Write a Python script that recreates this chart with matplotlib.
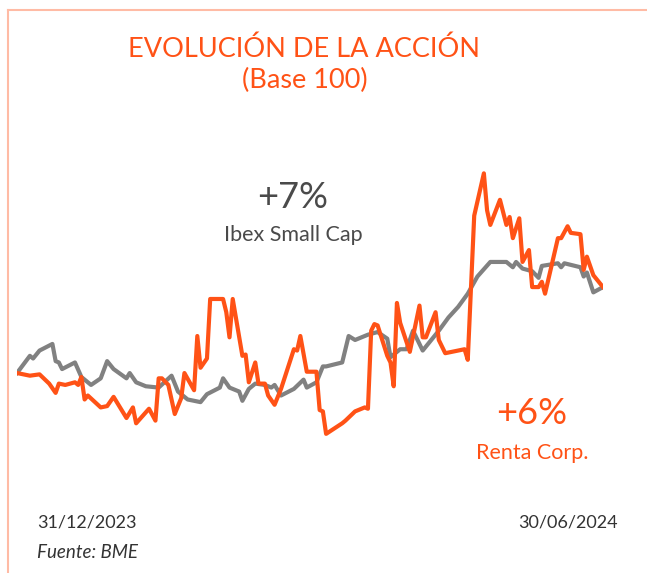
import matplotlib

matplotlib.use("Agg")
import matplotlib.pyplot as plt
import pandas as pd
from matplotlib.lines import Line2D

ORANGE = "#ff5216"
GREY = "#818181"
TEXT = "#4a4a4a"
BORDER = "#ffbba5"

W, H = 647, 573

# days since 31/12/2023, base 100
renta_days = [0, 4, 7, 10, 12, 13, 15, 18, 19, 20, 21, 22, 26, 28, 30, 34, 36, 37, 41, 43,
              44, 45, 47, 49, 51, 52, 55, 56, 57, 59, 60, 64, 65, 66, 67, 70, 71, 72, 74, 75,
              77, 78, 80, 82, 86, 87, 88, 90, 93, 94, 95, 96, 101, 102, 105, 108, 109, 110, 111, 112,
              115, 116, 117, 118, 119, 122, 125, 126, 127, 130, 131, 133, 139, 140, 142, 145, 146, 147, 150, 152,
              153, 154, 156, 157, 159, 160, 162, 163, 164, 168, 169, 171, 172, 175, 176, 177, 179, 182]
renta_vals = [100.0, 99.8, 99.9, 99.2, 98.5, 99.2, 99.1, 99.3, 99.1, 99.7, 98.0, 98.3, 97.4, 97.5, 98.2, 96.6, 97.4, 96.2, 97.3, 96.4,
              99.6, 99.6, 99.1, 96.9, 98.1, 100.0, 98.7, 102.8, 100.4, 101.1, 105.6, 105.6, 104.6, 102.7, 105.6, 101.3, 101.4, 99.3, 100.8, 99.2,
              99.2, 98.3, 97.6, 98.8, 101.8, 101.7, 102.8, 100.1, 100.1, 97.2, 97.1, 95.4, 96.2, 96.4, 97.1, 97.4, 97.3, 103.2, 103.7, 103.6,
              101.3, 100.8, 99.0, 105.3, 103.8, 101.6, 105.1, 102.7, 102.7, 104.6, 102.5, 101.5, 101.8, 101.0, 111.9, 115.1, 112.3, 111.2, 113.1, 111.2,
              111.8, 110.2, 111.7, 108.4, 109.3, 106.5, 106.5, 106.9, 106.0, 110.2, 110.2, 111.1, 110.6, 110.5, 107.8, 108.8, 107.4, 106.5]

ibex_days = [0, 4, 5, 7, 11, 12, 13, 14, 18, 20, 23, 26, 28, 30, 34, 35, 37, 40, 44, 48,
             50, 53, 57, 59, 63, 64, 66, 69, 70, 72, 74, 77, 79, 80, 82, 86, 89, 90, 93, 95,
             96, 101, 103, 105, 109, 112, 115, 116, 119, 121, 123, 126, 131, 134, 137, 140, 143, 147, 152, 154,
             155, 157, 160, 162, 163, 168, 169, 170, 175, 176, 177, 179, 182]
ibex_vals = [100.0, 101.3, 101.1, 101.7, 102.2, 100.9, 100.8, 100.3, 100.8, 99.7, 99.1, 99.6, 100.9, 100.3, 99.6, 100.0, 99.3, 99.0, 98.9, 99.8,
             98.6, 98.0, 97.8, 98.4, 98.9, 99.6, 98.9, 98.6, 97.9, 98.8, 99.2, 99.1, 98.9, 99.1, 98.3, 98.8, 99.5, 98.9, 99.3, 100.5,
             100.5, 100.8, 102.8, 102.5, 102.9, 103.1, 102.6, 101.2, 101.8, 101.8, 103.2, 101.7, 103.2, 104.2, 105.0, 106.0, 107.3, 108.4, 108.4, 108.0,
             108.4, 107.9, 107.7, 107.2, 108.1, 108.3, 108.0, 108.3, 108.0, 107.3, 107.6, 106.1, 106.5]

start = pd.Timestamp("2023-12-31")
renta_dates = start + pd.to_timedelta(renta_days, unit="D")
ibex_dates = start + pd.to_timedelta(ibex_days, unit="D")

plt.rcParams["font.family"] = ["Lato", "DejaVu Sans"]

fig = plt.figure(figsize=(W / 100, H / 100), dpi=100, facecolor="white")

# chart area in pixels: x 17..603, y 160..450
ax = fig.add_axes([17 / W, (H - 450) / H, (603 - 17) / W, 290 / H])
ax.plot(ibex_dates, ibex_vals, color=GREY, lw=3, solid_joinstyle="round", zorder=2)
ax.plot(renta_dates, renta_vals, color=ORANGE, lw=3, solid_joinstyle="round", zorder=3)
ax.set_xlim(start, start + pd.Timedelta(days=182))
ax.set_ylim(94.18, 116.11)
ax.axis("off")


def px(x, y):
    return x / W, 1 - y / H


fig.text(*px(304, 49), "EVOLUCIÓN DE LA ACCIÓN", ha="center", va="center",
         fontsize=19.5, color=ORANGE)
fig.text(*px(305, 80), "(Base 100)", ha="center", va="center",
         fontsize=19.5, color=ORANGE)

fig.text(*px(293, 197), "+7%", ha="center", va="center", fontsize=26, color=TEXT)
fig.text(*px(293, 235), "Ibex Small Cap", ha="center", va="center", fontsize=15.5, color=TEXT)
fig.text(*px(532, 414), "+6%", ha="center", va="center", fontsize=26, color=ORANGE)
fig.text(*px(532, 453), "Renta Corp.", ha="center", va="center", fontsize=15.5, color=ORANGE)

fig.text(*px(37, 522), "31/12/2023", ha="left", va="center", fontsize=13, color="#333333")
fig.text(*px(618, 522), "30/06/2024", ha="right", va="center", fontsize=13, color="#333333")
fig.text(*px(37, 553), "Fuente: BME", ha="left", va="center", fontsize=13.5,
         color="#333333", style="italic")

# frame: top and left edges only
fig.add_artist(Line2D([8 / W, 1], [1 - 10 / H] * 2, color=BORDER, lw=1.5, transform=fig.transFigure))
fig.add_artist(Line2D([8 / W] * 2, [1 - 10 / H, 0], color=BORDER, lw=1.5, transform=fig.transFigure))

fig.savefig("out.png", dpi=100, facecolor="white")
